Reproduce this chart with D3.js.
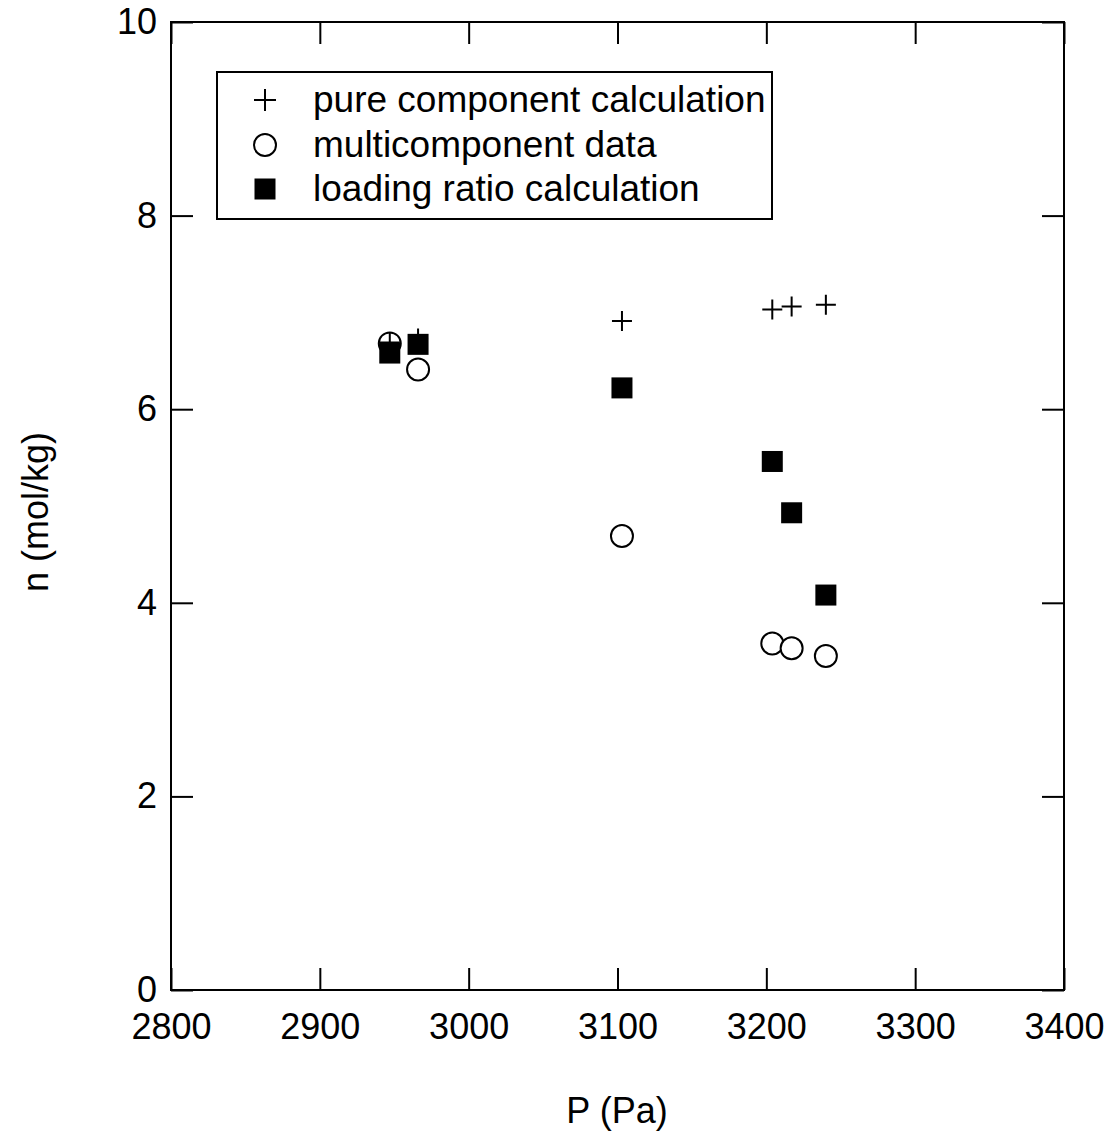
<!DOCTYPE html>
<html>
<head>
<meta charset="utf-8">
<script src="https://cdn.jsdelivr.net/npm/d3@7"></script>
<style>
  body { margin: 0; background: #fff; }
  svg text { font-family: "Liberation Sans", Arial, sans-serif; fill: #000; }
</style>
</head>
<body>
<div id="chart"></div>
<script>
var svgWidth = 1113;
var svgHeight = 1136;

var margin = { top: 22, right: 49, bottom: 146, left: 171 };
var width = svgWidth - margin.left - margin.right;
var height = svgHeight - margin.top - margin.bottom;

// data
var pureP = [2947, 2966, 3103, 3204, 3217, 3240];
var pureN = [6.69, 6.73, 6.91, 7.03, 7.06, 7.08];

var multiP = [2947, 2966, 3103, 3204, 3217, 3240];
var multiN = [6.68, 6.41, 4.69, 3.58, 3.53, 3.45];

var ratioP = [2947, 2966, 3103, 3204, 3217, 3240];
var ratioN = [6.58, 6.67, 6.22, 5.46, 4.93, 4.08];

var xTicks = [2800, 2900, 3000, 3100, 3200, 3300, 3400];
var yTicks = [0, 2, 4, 6, 8, 10];

var legendLabels = ["pure component calculation", "multicomponent data", "loading ratio calculation"];

var svg = d3.select("#chart").append("svg").attr("width", svgWidth).attr("height", svgHeight);
var chartGroup = svg.append("g").attr("transform", `translate(${margin.left}, ${margin.top})`);

var x = d3.scaleLinear().domain([2800, 3400]).range([0, width]);
var y = d3.scaleLinear().domain([0, 10]).range([height, 0]);

var fontSize = 36;

// axes, ticks pointing inward on all four sides
chartGroup.append("g").attr("transform", `translate(0, ${height})`)
    .call(d3.axisBottom(x).tickValues(xTicks).tickSizeInner(-22).tickSizeOuter(0).tickPadding(23).tickFormat(d3.format("d")));
chartGroup.append("g")
    .call(d3.axisTop(x).tickValues(xTicks).tickSizeInner(-22).tickSizeOuter(0).tickFormat(""));
chartGroup.append("g")
    .call(d3.axisLeft(y).tickValues(yTicks).tickSizeInner(-22).tickSizeOuter(0).tickPadding(14));
chartGroup.append("g").attr("transform", `translate(${width}, 0)`)
    .call(d3.axisRight(y).tickValues(yTicks).tickSizeInner(-22).tickSizeOuter(0).tickFormat(""));

chartGroup.selectAll(".domain").remove();
chartGroup.selectAll(".tick line").attr("stroke", "#000").attr("stroke-width", 2);
chartGroup.selectAll(".tick text").attr("font-size", fontSize).attr("font-family", "Liberation Sans, Arial, sans-serif");

chartGroup.append("rect")
    .attr("width", width).attr("height", height)
    .attr("fill", "none").attr("stroke", "#000").attr("stroke-width", 2);

// axis titles
svg.append("text")
    .attr("x", 617).attr("y", 1123)
    .attr("text-anchor", "middle").attr("font-size", fontSize)
    .text("P (Pa)");
svg.append("text")
    .attr("transform", "translate(48, 512) rotate(-90)")
    .attr("text-anchor", "middle").attr("font-size", fontSize)
    .text("n (mol/kg)");

// markers
function plus(g, cx, cy, s) {
    g.append("path")
        .attr("d", `M${cx - s},${cy}H${cx + s}M${cx},${cy - s}V${cy + s}`)
        .attr("stroke", "#000").attr("stroke-width", 2).attr("fill", "none");
}
function circle(g, cx, cy) {
    g.append("circle").attr("cx", cx).attr("cy", cy).attr("r", 11)
        .attr("fill", "#fff").attr("stroke", "#000").attr("stroke-width", 2);
}
function square(g, cx, cy) {
    g.append("rect").attr("x", cx - 10.5).attr("y", cy - 10.5)
        .attr("width", 21).attr("height", 21).attr("fill", "#000");
}

multiP.forEach(function(p, i) { circle(chartGroup, x(p), y(multiN[i])); });
pureP.forEach(function(p, i) { plus(chartGroup, x(p), y(pureN[i]), 10); });
ratioP.forEach(function(p, i) { square(chartGroup, x(p), y(ratioN[i])); });

// legend
var legend = svg.append("g");
legend.append("rect")
    .attr("x", 217).attr("y", 72).attr("width", 555).attr("height", 147)
    .attr("fill", "#fff").attr("stroke", "#000").attr("stroke-width", 2);

var legendRows = [100, 145, 189];
plus(legend, 265, legendRows[0], 11);
circle(legend, 265, legendRows[1]);
square(legend, 265, legendRows[2]);

legend.selectAll("text.lab")
    .data(legendLabels)
    .join("text")
    .attr("class", "lab")
    .attr("x", 313)
    .attr("y", (d, i) => legendRows[i] + 12)
    .attr("font-size", 37)
    .text(d => d);
</script>
</body>
</html>
